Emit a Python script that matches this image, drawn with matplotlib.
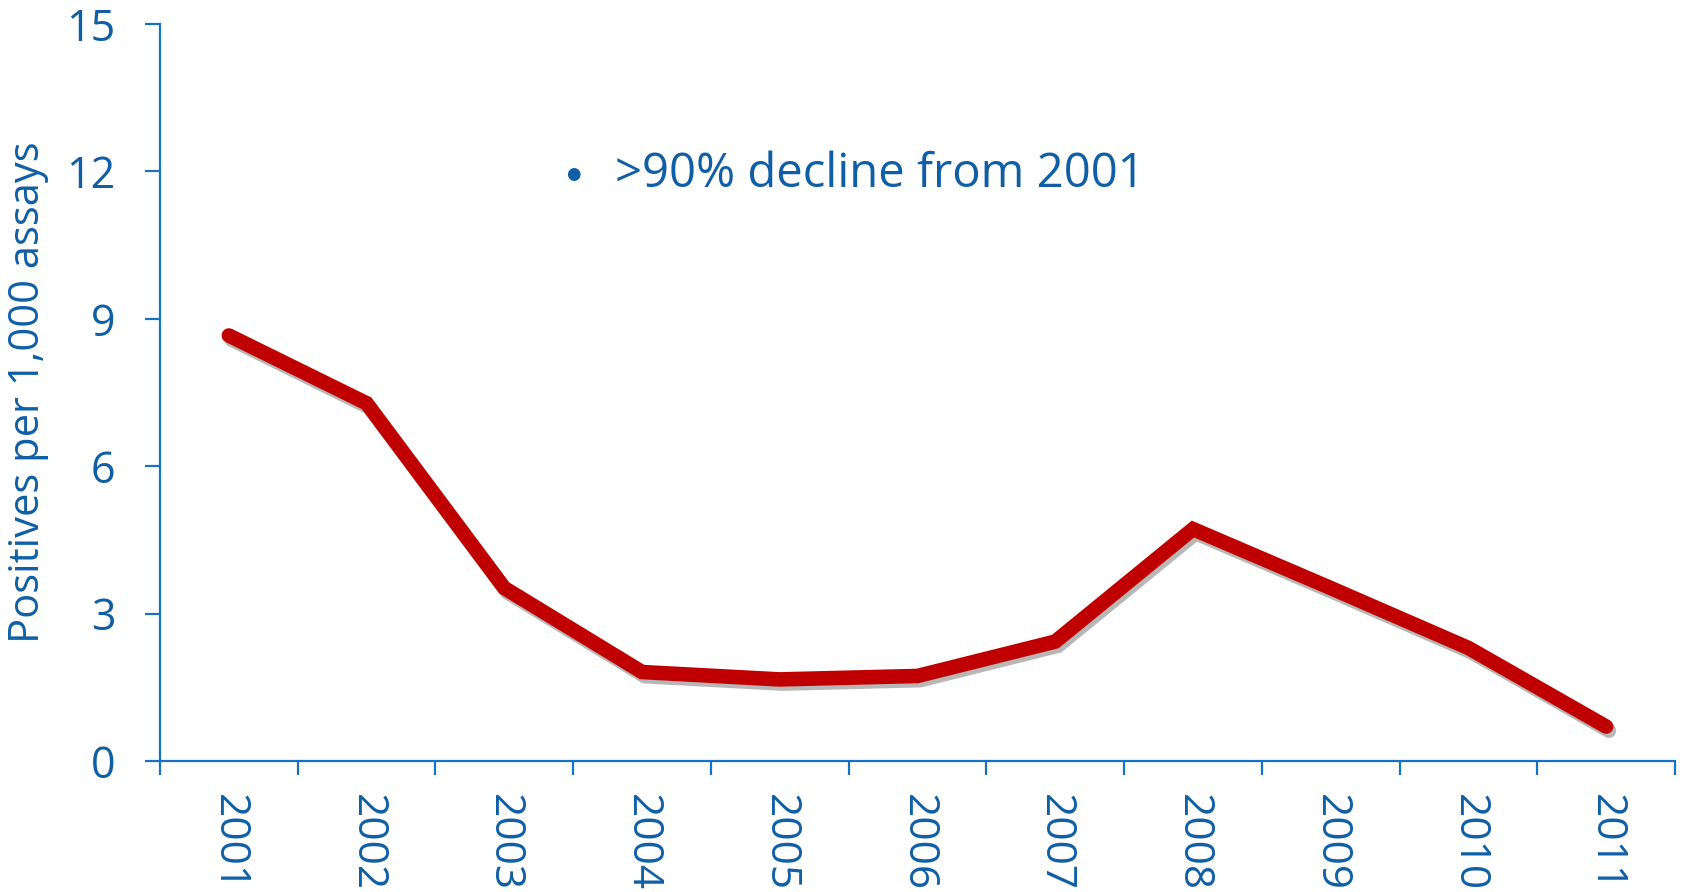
import matplotlib
matplotlib.use("Agg")
import matplotlib.pyplot as plt
import matplotlib.patheffects as pe
from matplotlib.ticker import FixedLocator, NullFormatter

years = ["2001", "2002", "2003", "2004", "2005", "2006", "2007", "2008", "2009", "2010", "2011"]
values = [8.66, 7.28, 3.52, 1.81, 1.66, 1.73, 2.43, 4.72, 3.52, 2.30, 0.70]
yticks = [0, 3, 6, 9, 12, 15]
ylabel = "Positives per 1,000 assays"
note = ">90% decline from 2001"

text_color = "#0F5FA6"
axis_color = "#1673C4"
line_color = "#C00000"

plt.rcParams['font.family'] = ['Open Sans', 'DejaVu Sans']

fig = plt.figure(figsize=(16.86, 8.92), dpi=100)
ax = fig.add_axes([0.0949, 0.1469, 0.8986, 0.8262])

x = list(range(len(years)))
ax.plot(x, values, color=line_color, lw=10.5, solid_capstyle="round", solid_joinstyle="miter",
        path_effects=[pe.SimpleLineShadow(offset=(2, -3), shadow_color="#333333", alpha=0.35),
                      pe.Normal()], zorder=3)

ax.set_xlim(-0.5, len(years) - 0.5)
ax.set_ylim(0, 15)

for s in ["top", "right"]:
    ax.spines[s].set_visible(False)
for s in ["left", "bottom"]:
    ax.spines[s].set_color(axis_color)
    ax.spines[s].set_linewidth(1.6)
ax.spines["bottom"].set_zorder(2)

ax.set_yticks(yticks)
ax.set_yticklabels([str(v) for v in yticks])
ax.tick_params(axis="y", direction="out", length=11, width=1.6, color=axis_color,
               labelcolor=text_color, labelsize=31, pad=21)

ax.xaxis.set_major_locator(FixedLocator([i - 0.5 for i in range(len(years) + 1)]))
ax.xaxis.set_major_formatter(NullFormatter())
ax.xaxis.set_minor_locator(FixedLocator(x))
ax.set_xticks(x, minor=True)
ax.set_xticklabels(years, minor=True, rotation=-90, va="top", ha="center")
ax.tick_params(axis="x", which="major", direction="out", length=10, width=1.6, color=axis_color)
ax.tick_params(axis="x", which="minor", length=0, labelcolor=text_color, labelsize=30.5, pad=24)

ax.set_ylabel(ylabel, color=text_color, fontsize=30)
ax.yaxis.set_label_coords(-0.073, 0.5)

ax.text(0.2725, 11.95, "\u25CF", color=text_color, fontsize=12, va="center", ha="center",
        transform=ax.get_yaxis_transform(), family=['DejaVu Sans'])
ax.text(0.3, 11.95, note, color=text_color, fontsize=34, va="center", ha="left",
        transform=ax.get_yaxis_transform())

fig.savefig("out.png", dpi=100)
